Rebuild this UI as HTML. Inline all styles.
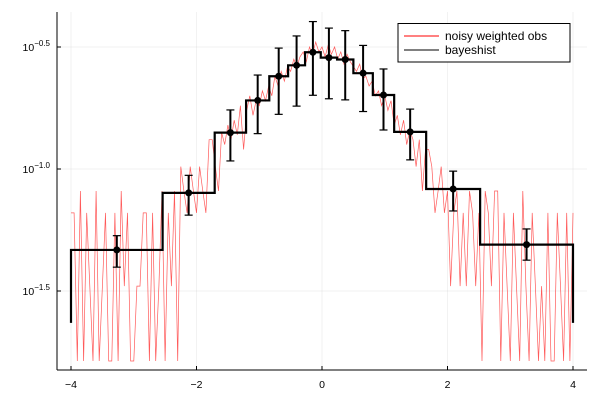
<!DOCTYPE html>
<html><head><meta charset="utf-8"><style>
body{margin:0;background:#fff}
svg{display:block;font-family:"Liberation Sans",sans-serif}
</style></head><body>
<svg id="chart" width="600" height="400" viewBox="0 0 600 400" xmlns="http://www.w3.org/2000/svg"></svg>
<script>
const xTicks=[-4,-2,0,2,4];
const yTicks=[-0.5,-1.0,-1.5];
const binEdges=[-4,-2.54,-1.71,-1.21,-0.84,-0.54,-0.27,-0.02,0.24,0.5,0.81,1.15,1.66,2.52,4];
const binValues=[0.0466,0.0798,0.141,0.191,0.240,0.266,0.301,0.286,0.281,0.247,0.201,0.142,0.0828,0.0490];
const errHi=[0.0533,0.0942,0.1746,0.2427,0.313,0.351,0.402,0.378,0.369,0.321,0.257,0.176,0.098,0.0568];
const errLo=[0.0396,0.0647,0.1079,0.1396,0.1675,0.181,0.2005,0.194,0.192,0.172,0.1445,0.109,0.0673,0.0423];
const endValue=0.0234;
const noisyLog=[
-1.18,-1.18,-1.79,-1.09,-1.79,-1.18,-1.48,-1.79,-1.09,-1.79,
-1.48,-1.18,-1.79,-1.79,-1.18,-1.79,-1.09,-1.48,-1.18,-1.79,
-1.79,-1.48,-1.48,-1.18,-1.18,-1.79,-1.18,-1.79,-1.48,-1.09,
-1.79,-1.18,-1.48,-1.09,-1.79,-0.99,-1.09,-1.18,-0.99,-1.09,
-1.18,-0.99,-1.09,-1.18,-0.88,-0.88,-0.99,-1.09,-0.85,-0.9,
-0.82,-0.88,-0.80,-0.86,-0.74,-0.92,-0.76,-0.70,-0.78,-0.72,
-0.74,-0.68,-0.72,-0.66,-0.70,-0.62,-0.66,-0.60,-0.64,-0.58,
-0.60,-0.55,-0.58,-0.54,-0.52,-0.56,-0.50,-0.53,-0.48,-0.52,
-0.50,-0.54,-0.49,-0.53,-0.50,-0.55,-0.52,-0.57,-0.53,-0.56,
-0.58,-0.60,-0.57,-0.63,-0.62,-0.66,-0.64,-0.70,-0.68,-0.74,
-0.70,-0.76,-0.72,-0.82,-0.78,-0.86,-0.80,-0.90,-0.84,-0.88,
-0.99,-0.88,-1.09,-0.92,-0.92,-0.99,-1.18,-1.09,-0.99,-1.18,
-1.09,-1.48,-1.18,-1.09,-1.48,-1.18,-1.48,-1.09,-1.18,-1.48,
-1.18,-1.79,-1.09,-1.18,-1.48,-1.09,-1.09,-1.79,-1.18,-1.48,
-1.79,-1.18,-1.48,-1.79,-1.09,-1.48,-1.79,-1.18,-1.48,-1.79,
-1.48,-1.79,-1.18,-1.79,-1.79,-1.18,-1.48,-1.79,-1.18,-1.79,
-1.18];
const noisyX0=-4, noisyStep=0.05;

const svg=document.getElementById('chart');
const NS='http://www.w3.org/2000/svg';
const L=57,R=587,T=12,B=370;
function sx(x){return 71+(x+4)*62.75;}
function sy(v){return 47+(-0.5-Math.log10(v))*244;}
function syl(l){return 47+(-0.5-l)*244;}
function mk(tag,attrs,parent){const e=document.createElementNS(NS,tag);for(const k in attrs)e.setAttribute(k,attrs[k]);(parent||svg).appendChild(e);return e;}

const grid=mk('g',{});


xTicks.forEach(t=>{mk('line',{x1:sx(t),x2:sx(t),y1:T,y2:B,stroke:'#000','stroke-opacity':0.1,'stroke-width':0.5},grid);});
yTicks.forEach(t=>{mk('line',{x1:L,x2:R,y1:syl(t),y2:syl(t),stroke:'#000','stroke-opacity':0.1,'stroke-width':0.5},grid);});

const ax=mk('g',{});


mk('line',{x1:L,x2:L,y1:T,y2:B,stroke:'#000','stroke-width':1},ax);
mk('line',{x1:L,x2:R,y1:B,y2:B,stroke:'#000','stroke-width':1},ax);
xTicks.forEach(t=>{
 mk('line',{x1:sx(t),x2:sx(t),y1:B,y2:B-4,stroke:'#000'},ax);
 const tx=mk('text',{x:sx(t),y:388,'text-anchor':'middle','font-size':10.5},ax);
 
 
 tx.textContent=(t<0?'\u2212'+(-t):String(t));
});
yTicks.forEach(t=>{
 mk('line',{x1:L,x2:L+4,y1:syl(t),y2:syl(t),stroke:'#000'},ax);
 const tx=mk('text',{x:50,y:syl(t)+4,'text-anchor':'end','font-size':10.5},ax);
 
 
 tx.appendChild(document.createTextNode('10'));
 const sp=mk('tspan',{dy:-5,'font-size':8},tx);
 sp.textContent='\u2212'+Math.abs(t).toFixed(1);
});

let d='';
noisyLog.forEach((l,i)=>{const x=noisyX0+i*noisyStep;d+=(i?'L':'M')+sx(x).toFixed(1)+','+syl(Math.max(l,-1.787)).toFixed(1);});
const nl=mk('path',{d:d,fill:'none',stroke:'#ff0000','stroke-opacity':0.65,'stroke-width':0.7});



let s='M'+sx(binEdges[0])+','+sy(endValue);
binValues.forEach((v,i)=>{s+='L'+sx(binEdges[i])+','+sy(v)+'L'+sx(binEdges[i+1])+','+sy(v);});
s+='L'+sx(binEdges[binEdges.length-1])+','+sy(endValue);
const st=mk('path',{d:s,fill:'none',stroke:'#000','stroke-width':2.2});



binValues.forEach((v,i)=>{
 const cx=sx((binEdges[i]+binEdges[i+1])/2);
 const g=mk('g',{});
 
 
 mk('line',{x1:cx,x2:cx,y1:sy(errHi[i]),y2:sy(errLo[i]),stroke:'#000','stroke-width':2},g);
 mk('line',{x1:cx-4,x2:cx+4,y1:sy(errHi[i]),y2:sy(errHi[i]),stroke:'#000','stroke-width':1.2},g);
 mk('line',{x1:cx-4,x2:cx+4,y1:sy(errLo[i]),y2:sy(errLo[i]),stroke:'#000','stroke-width':1.2},g);
 mk('circle',{cx:cx,cy:sy(v),r:3.5,fill:'#000'},g);
});

const lg=mk('g',{});


mk('rect',{x:398,y:23.5,width:172,height:38.5,fill:'#fff',stroke:'#000','stroke-width':1},lg);
mk('line',{x1:404,x2:439,y1:36,y2:36,stroke:'#ff0000','stroke-width':1},lg);
mk('line',{x1:404,x2:439,y1:50,y2:50,stroke:'#000','stroke-width':1},lg);
const t1=mk('text',{x:445,y:40,'font-size':12},lg);


t1.textContent='noisy weighted obs';
const t2=mk('text',{x:445,y:54,'font-size':12},lg);


t2.textContent='bayeshist';
</script>
</body></html>
